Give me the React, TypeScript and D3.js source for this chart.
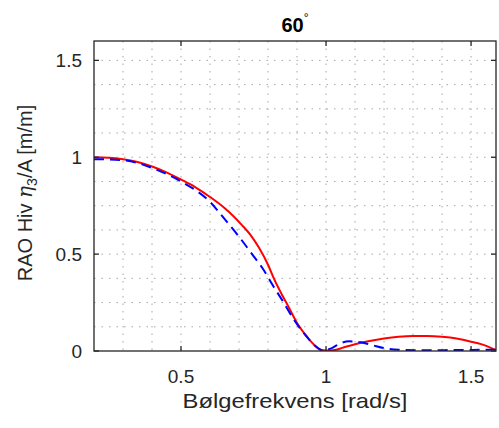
import React, { useEffect, useRef } from 'react';
import * as d3 from 'd3';

// bølgefrekvens [rad/s] og RAO-verdier lest av figuren
const freqRed = [0.2, 0.25, 0.3, 0.35, 0.4, 0.45, 0.5, 0.55, 0.6, 0.65, 0.68, 0.71, 0.74, 0.77, 0.8, 0.82, 0.85, 0.87, 0.9, 0.93, 0.95, 0.98, 1.0, 1.03, 1.06, 1.1, 1.15, 1.2, 1.25, 1.3, 1.35, 1.4, 1.45, 1.5, 1.55, 1.586];
const raoRed = [1.0, 0.998, 0.99, 0.975, 0.952, 0.922, 0.885, 0.845, 0.795, 0.738, 0.697, 0.65, 0.598, 0.53, 0.445, 0.375, 0.285, 0.23, 0.145, 0.082, 0.046, 0.006, 0.002, 0.005, 0.018, 0.035, 0.052, 0.065, 0.074, 0.078, 0.078, 0.074, 0.065, 0.048, 0.028, 0.005];

const freqBlue = [0.2, 0.3, 0.4, 0.5, 0.55, 0.6, 0.64, 0.7, 0.75, 0.78, 0.82, 0.85, 0.89, 0.93, 0.96, 0.99, 1.02, 1.05, 1.08, 1.12, 1.16, 1.2, 1.25, 1.35, 1.45, 1.55, 1.586];
const raoBlue = [0.99, 0.985, 0.945, 0.875, 0.83, 0.77, 0.7, 0.59, 0.49, 0.43, 0.33, 0.26, 0.16, 0.08, 0.03, 0.003, 0.015, 0.04, 0.05, 0.045, 0.03, 0.015, 0.007, 0.004, 0.005, 0.006, 0.006];

const xTicks = [0.5, 1, 1.5];
const yTicks = [0, 0.5, 1, 1.5];
const xMinor = [0.3, 0.4, 0.5, 0.6, 0.7, 0.8, 0.9, 1.0, 1.1, 1.2, 1.3, 1.4, 1.5];
const yMinor = [0.125, 0.25, 0.375, 0.5, 0.625, 0.75, 0.875, 1.0, 1.125, 1.25, 1.375, 1.5];

const App = () => {
  const svgRef = useRef<SVGSVGElement>(null);

  useEffect(() => {
    const root = d3.select(svgRef.current);
    root.selectAll('*').remove();

    const width = 499;
    const height = 428;
    const left = 94, right = 496, top = 41, bottom = 351;
    const axisColor = '#262626';
    const font = '"Liberation Sans", Arial, Helvetica, sans-serif';

    root.attr('width', width).attr('height', height);

    const x = d3.scaleLinear().domain([0.2, 1.586]).range([left, right]);
    const y = d3.scaleLinear().domain([0, 1.6]).range([bottom, top]);

    root.append('rect').attr('width', width).attr('height', height).attr('fill', 'white');

    // rutenett (prikket)
    const grid = root.append('g')
      .attr('stroke', '#a6a6a6')
      .attr('stroke-width', 1)
      .attr('stroke-dasharray', '1.5,6');
    grid.selectAll('.gx').data(xMinor).enter().append('line')
      .attr('x1', d => x(d)).attr('x2', d => x(d))
      .attr('y1', top).attr('y2', bottom);
    grid.selectAll('.gy').data(yMinor).enter().append('line')
      .attr('y1', d => y(d)).attr('y2', d => y(d))
      .attr('x1', left).attr('x2', right);

    // kurver
    root.append('clipPath').attr('id', 'clip')
      .append('rect').attr('x', left).attr('y', top).attr('width', right - left).attr('height', bottom - top);

    const line = d3.line<[number, number]>()
      .x(d => x(d[0]))
      .y(d => y(d[1]))
      .curve(d3.curveMonotoneX);

    root.append('path')
      .datum(freqRed.map((f, i) => [f, raoRed[i]] as [number, number]))
      .attr('d', line)
      .attr('clip-path', 'url(#clip)')
      .attr('fill', 'none')
      .attr('stroke', '#ff0000')
      .attr('stroke-width', 2);

    root.append('path')
      .datum(freqBlue.map((f, i) => [f, raoBlue[i]] as [number, number]))
      .attr('d', line)
      .attr('clip-path', 'url(#clip)')
      .attr('fill', 'none')
      .attr('stroke', '#0000ff')
      .attr('stroke-width', 2)
      .attr('stroke-dasharray', '10,6');

    // akseboks
    root.append('rect')
      .attr('x', left).attr('y', top)
      .attr('width', right - left).attr('height', bottom - top)
      .attr('fill', 'none')
      .attr('stroke', axisColor)
      .attr('stroke-width', 1.3);

    const tickLen = 5;
    const ticks = root.append('g').attr('stroke', axisColor).attr('stroke-width', 1.3);
    xTicks.forEach(t => {
      ticks.append('line').attr('x1', x(t)).attr('x2', x(t)).attr('y1', bottom).attr('y2', bottom - tickLen);
      ticks.append('line').attr('x1', x(t)).attr('x2', x(t)).attr('y1', top).attr('y2', top + tickLen);
    });
    yTicks.forEach(t => {
      ticks.append('line').attr('y1', y(t)).attr('y2', y(t)).attr('x1', left).attr('x2', left + tickLen);
      ticks.append('line').attr('y1', y(t)).attr('y2', y(t)).attr('x1', right).attr('x2', right - tickLen);
    });

    // tick-etiketter
    root.selectAll('.xl').data(xTicks).enter().append('text')
      .attr('x', d => x(d))
      .attr('y', 383)
      .attr('text-anchor', 'middle')
      .style('font-family', font)
      .style('font-size', '19px')
      .style('fill', axisColor)
      .text(d => String(d));

    root.selectAll('.yl').data(yTicks).enter().append('text')
      .attr('x', 82)
      .attr('y', d => y(d))
      .attr('dy', '0.35em')
      .attr('text-anchor', 'end')
      .style('font-family', font)
      .style('font-size', '19px')
      .style('fill', axisColor)
      .text(d => String(d));

    // aksetitler
    root.append('text')
      .attr('x', 295)
      .attr('y', 408)
      .attr('text-anchor', 'middle')
      .attr('textLength', 225)
      .attr('lengthAdjust', 'spacingAndGlyphs')
      .style('font-family', font)
      .style('font-size', '21px')
      .style('fill', axisColor)
      .text('Bølgefrekvens [rad/s]');

    const yl = root.append('text')
      .attr('transform', 'translate(32,193) rotate(-90)')
      .attr('text-anchor', 'middle')
      .style('font-family', font)
      .style('font-size', '20px')
      .style('fill', axisColor);
    yl.append('tspan').text('RAO Hiv ');
    yl.append('tspan').style('font-family', '"DejaVu Serif", serif').style('font-style', 'italic').text('η');
    yl.append('tspan').attr('dy', 5).style('font-size', '14px').text('3');
    yl.append('tspan').attr('dy', -5).text('/A [m/m]');

    // tittel
    const title = root.append('text')
      .attr('x', 295)
      .attr('y', 32)
      .attr('text-anchor', 'middle')
      .style('font-family', font)
      .style('font-size', '20px')
      .style('font-weight', 'bold')
      .style('fill', '#000');
    title.append('tspan').text('60');
    title.append('tspan').attr('dy', -10).style('font-size', '12px').style('font-weight', 'normal').text('°');
  }, []);

  return (
    <div style={{ position: 'absolute', left: 0, top: 0 }}>
      <svg ref={svgRef}></svg>
    </div>
  );
};

export default App;
